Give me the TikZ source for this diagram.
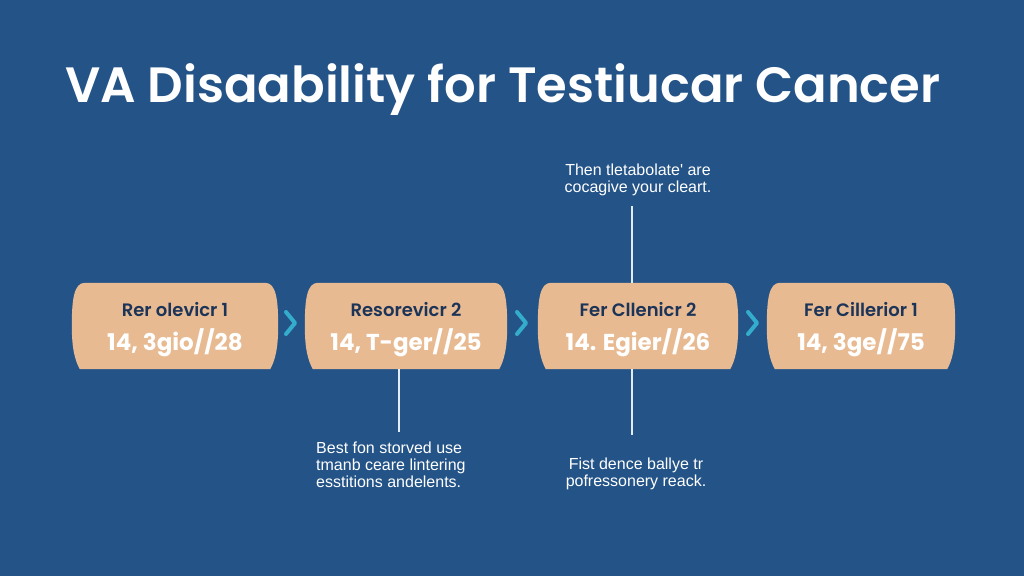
\documentclass[tikz,border=0pt]{standalone}
\usepackage{fontspec}
\setmainfont{Poppins}
\newfontfamily\titlefont{Poppins SemiBold}
\newfontfamily\notefont{Liberation Sans}
\usepackage{pdfrender}
\usetikzlibrary{calc,backgrounds}
\definecolor{bgblue}{RGB}{36,84,135}
\definecolor{peach}{RGB}{232,186,146}
\definecolor{navy}{RGB}{28,52,88}
\definecolor{chev}{RGB}{52,172,204}
\definecolor{linec}{RGB}{225,236,245}
\tikzset{
  boxnode/.style={minimum height=86pt, inner sep=0pt},
  boxshape/.style={fill=peach},
  boxlabel/.style={text=navy, font=\titlefont\fontsize{18}{20}\selectfont, inner sep=0pt},
  boxnum/.style={font=\bfseries\fontsize{23}{24}\selectfont, inner sep=0pt},
  chevron/.style={draw=chev, line width=4pt, line cap=round, line join=round},
  link/.style={draw=linec, line width=1.3pt},
  note/.style={text=white, font=\notefont\fontsize{16}{17}\selectfont, inner sep=0pt},
  title/.style={text=white, font=\titlefont\fontsize{49.6}{58}\selectfont, inner sep=0pt, anchor=base west},
}
\newcommand{\outlined}[1]{\textpdfrender{TextRenderingMode=FillStroke,LineWidth=1.1pt,StrokeColor=navy,FillColor=white}{\color{white}#1}}
\begin{document}
\begin{tikzpicture}[x=1pt,y=-1pt]
\useasboundingbox (0,0) rectangle (1024,576);
\node[title] (t) at (65,102) {VA Disaability for Testiucar Cancer};

\node[boxnode, minimum width=206pt] (b1) at (175,326) {};
\node[boxnode, minimum width=202pt] (b2) at (406,326) {};
\node[boxnode, minimum width=200pt] (b3) at (638,326) {};
\node[boxnode, minimum width=188pt] (b4) at (861,326) {};

\begin{scope}[on background layer]
\fill[bgblue] (0,0) rectangle (1024,576);
\foreach \b in {b1,b2,b3,b4}{
  \fill[boxshape]
    ($(\b.north west)+(13,0)$) -- ($(\b.north east)+(-13,0)$)
    .. controls ($(\b.north east)+(-2,0)$) and ($(\b.east)+(0,-26)$) .. (\b.east)
    .. controls ($(\b.east)+(0,22)$) and ($(\b.south east)+(-3,-9)$) .. ($(\b.south east)+(-8,0)$)
    -- ($(\b.south west)+(8,0)$)
    .. controls ($(\b.south west)+(3,-9)$) and ($(\b.west)+(0,22)$) .. (\b.west)
    .. controls ($(\b.west)+(0,-26)$) and ($(\b.north west)+(2,0)$) .. cycle;
}
\end{scope}

\node[boxlabel] (l1) at ($(b1)+(0,-16)$) {Rer olevicr 1};
\node[boxlabel] (l2) at ($(b2)+(0,-16)$) {Resorevicr 2};
\node[boxlabel] (l3) at ($(b3)+(0,-16)$) {Fer Cllenicr 2};
\node[boxlabel] (l4) at ($(b4)+(0,-16)$) {Fer Cillerior 1};
\node[boxnum] (v1) at ($(b1)+(0,17)$) {\outlined{14, 3gio//28}};
\node[boxnum] (v2) at ($(b2)+(0,17)$) {\outlined{14, T-ger//25}};
\node[boxnum] (v3) at ($(b3)+(0,17)$) {\outlined{14. Egier//26}};
\node[boxnum] (v4) at ($(b4)+(0,17)$) {\outlined{14, 3ge//75}};

\coordinate (c1a) at (286,312); \coordinate (c1b) at (295,323); \coordinate (c1c) at (286,334);
\coordinate (c2a) at (517,312); \coordinate (c2b) at (526,323); \coordinate (c2c) at (517,334);
\coordinate (c3a) at (748,312); \coordinate (c3b) at (757,323); \coordinate (c3c) at (748,334);
\draw[chevron] (c1a) -- (c1b) -- (c1c);
\draw[chevron] (c2a) -- (c2b) -- (c2c);
\draw[chevron] (c3a) -- (c3b) -- (c3c);

\node[note, align=center] (n1) at (638,180) {Then tletabolate' are\\cocagive your cleart.};
\node[note, align=left, anchor=west] (n2) at (316,465) {Best fon storved use\\tmanb ceare lintering\\esstitions andelents.};
\node[note, align=center] (n3) at (636,473.5) {Fist dence ballye tr\\pofressonery reack.};

\coordinate (u3) at (632,206);
\coordinate (d2) at (399,432);
\coordinate (d3) at (632,435);
\draw[link] (u3) -- (u3 |- b3.north);
\draw[link] (d2 |- b2.south) -- (d2);
\draw[link] (d3 |- b3.south) -- (d3);
\end{tikzpicture}
\end{document}
